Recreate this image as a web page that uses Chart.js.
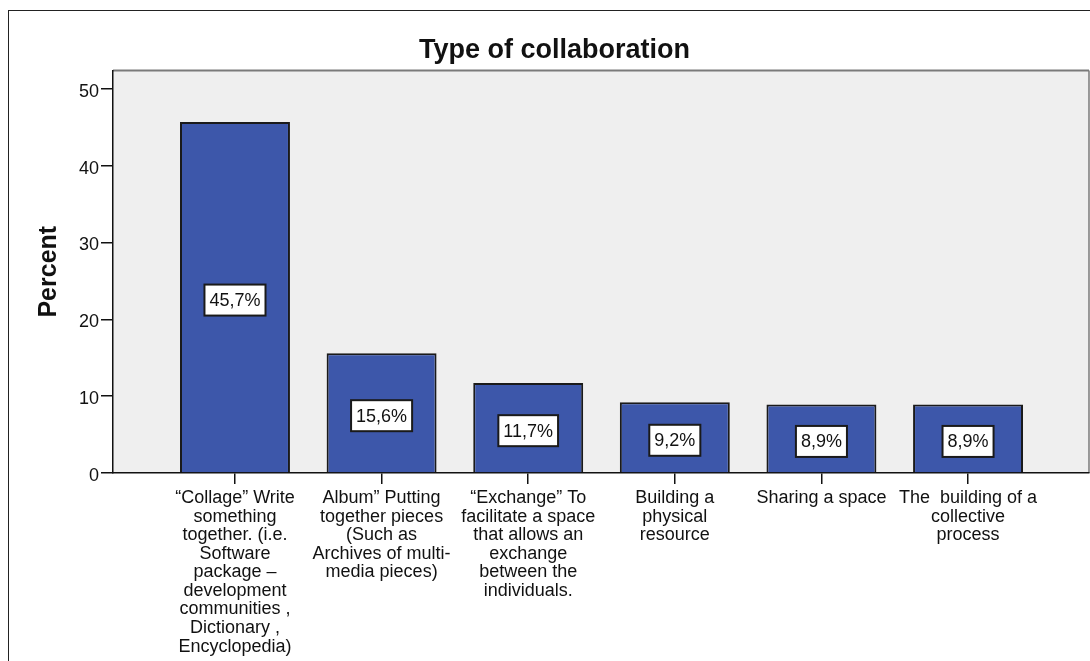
<!DOCTYPE html>
<html>
<head>
<meta charset="utf-8">
<title>Type of collaboration</title>
<script src="https://cdn.jsdelivr.net/npm/chart.js@4.4.1/dist/chart.umd.min.js"></script>
<style>
  html, body { margin: 0; padding: 0; background: #fff; overflow: hidden; }
  #wrap { position: relative; width: 1090px; height: 661px; }
  #frame {
    position: absolute; left: 8px; top: 10px; width: 1200px; height: 800px;
    border-left: 1px solid #222; border-top: 1px solid #222;
    pointer-events: none;
  }
  #chart { position: absolute; left: 0; top: 0; }
</style>
</head>
<body>
<div id="wrap">
  <div id="frame"></div>
  <canvas id="chart" width="1090" height="661"></canvas>
</div>
<script>
const categories = [
  ['\u201CCollage\u201D Write', 'something', 'together. (i.e.', 'Software', 'package \u2013', 'development', 'communities ,', 'Dictionary ,', 'Encyclopedia)'],
  ['Album\u201D Putting', 'together pieces', '(Such as', 'Archives of multi-', 'media pieces)'],
  ['\u201CExchange\u201D To', 'facilitate a space', 'that allows an', 'exchange', 'between the', 'individuals.'],
  ['Building a', 'physical', 'resource'],
  ['Sharing a space'],
  ['The  building of a', 'collective', 'process']
];
const percents = [45.7, 15.6, 11.7, 9.2, 8.9, 8.9];
const yTicks = [0, 10, 20, 30, 40, 50];

const FONT = 'Arial, "Liberation Sans", sans-serif';

// grey plot background plus the grey top/right frame of the plot
const plotFrame = {
  id: 'plotFrame',
  beforeDraw(chart) {
    const { ctx, chartArea: a } = chart;
    ctx.save();
    ctx.fillStyle = '#efefef';
    ctx.fillRect(a.left, a.top, a.right - a.left, a.bottom - a.top);
    ctx.strokeStyle = '#7a7a7a';
    ctx.lineWidth = 2;
    ctx.beginPath();
    ctx.moveTo(a.left, a.top);
    ctx.lineTo(a.right, a.top);
    ctx.stroke();
    ctx.lineWidth = 1.5;
    ctx.beginPath();
    ctx.moveTo(a.right, a.top);
    ctx.lineTo(a.right, a.bottom);
    ctx.stroke();
    ctx.restore();
  }
};

// boxed percentage label in the middle of each bar
const valueBoxes = {
  id: 'valueBoxes',
  afterDatasetsDraw(chart) {
    const { ctx } = chart;
    const meta = chart.getDatasetMeta(0);
    ctx.save();
    ctx.font = '18px ' + FONT;
    ctx.textAlign = 'center';
    ctx.textBaseline = 'middle';
    meta.data.forEach((bar, i) => {
      const text = percents[i].toFixed(1).replace('.', ',') + '%';
      const w = ctx.measureText(text).width + 10;
      const h = 31;
      const cy = (bar.y + bar.base) / 2 + 3;
      ctx.fillStyle = '#fff';
      ctx.fillRect(bar.x - w / 2, cy - h / 2, w, h);
      ctx.strokeStyle = '#1a1a1a';
      ctx.lineWidth = 2;
      ctx.strokeRect(bar.x - w / 2, cy - h / 2, w, h);
      ctx.fillStyle = '#111';
      ctx.fillText(text, bar.x, cy + 1);
    });
    ctx.restore();
  }
};

new Chart(document.getElementById('chart'), {
  type: 'bar',
  data: {
    datasets: [{
      label: 'Percent',
      data: percents.map((v, i) => ({ x: i, y: v })),
      backgroundColor: '#3d57aa',
      borderColor: '#1a1a1a',
      borderWidth: 2,
      barPercentage: 0.75,
      categoryPercentage: 1
    }]
  },
  options: {
    responsive: false,
    animation: false,
    layout: { padding: { left: 20, right: 1, top: 0, bottom: 0 } },
    plugins: {
      legend: { display: false },
      tooltip: { enabled: false },
      title: {
        display: true,
        text: 'Type of collaboration',
        color: '#111',
        font: { family: FONT, size: 27, weight: 'bold', lineHeight: 1.2 },
        padding: { top: 34, bottom: 4 }
      }
    },
    scales: {
      x: {
        type: 'linear',
        offset: false,
        min: -0.832,
        max: 5.825,
        afterBuildTicks(scale) {
          scale.ticks = categories.map((c, i) => ({ value: i }));
        },
        afterFit(scale) { scale.height = 188; },
        border: { color: '#111', width: 1.5 },
        grid: { offset: false, drawOnChartArea: false, drawTicks: true, tickLength: 11, color: '#111', lineWidth: 1.5 },
        ticks: {
          autoSkip: false,
          maxRotation: 0,
          minRotation: 0,
          padding: 5,
          color: '#111',
          font: { family: FONT, size: 18, lineHeight: 1.03 },
          callback: (value) => categories[value]
        }
      },
      y: {
        min: 0,
        max: 52.4,
        afterBuildTicks(scale) {
          scale.ticks = yTicks.map(v => ({ value: v }));
        },
        afterFit(scale) { scale.width = 93; },
        border: { color: '#111', width: 1.5 },
        grid: { drawOnChartArea: false, drawTicks: true, tickLength: 12, color: '#111', lineWidth: 1.5 },
        ticks: {
          padding: 2,
          labelOffset: 3,
          color: '#111',
          font: { family: FONT, size: 18 }
        },
        title: {
          display: true,
          text: 'Percent',
          color: '#111',
          font: { family: FONT, size: 25, weight: 'bold', lineHeight: 1.2 },
          padding: { top: 14, bottom: 0 }
        }
      }
    }
  },
  plugins: [plotFrame, valueBoxes]
});
</script>
</body>
</html>
